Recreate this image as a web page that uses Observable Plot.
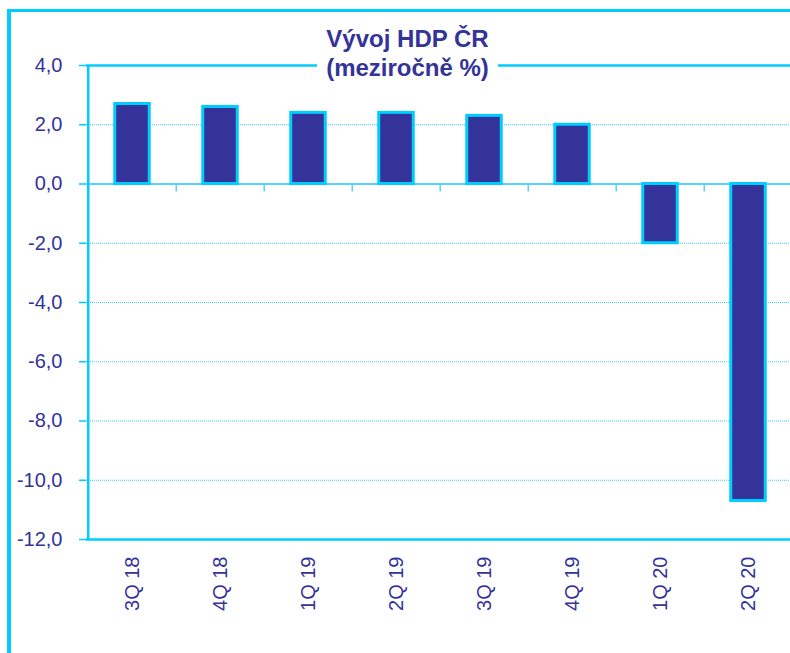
<!DOCTYPE html>
<html>
<head>
<meta charset="utf-8">
<script src="https://cdn.jsdelivr.net/npm/d3@7"></script>
<script src="https://cdn.jsdelivr.net/npm/@observablehq/plot@0.6"></script>
<style>
  html, body { margin: 0; padding: 0; background: #fff; overflow: hidden; }
  #wrap { position: relative; width: 790px; height: 653px; overflow: hidden; }
  #outer { position: absolute; left: 7px; top: 9px; width: 790px; height: 700px;
           border-left: 4px solid #00ccff; border-top: 3px solid #00ccff; }
  #chart { position: absolute; left: 0; top: 0; width: 790px; }
  #chart svg { max-width: none !important; display: block; }
  #title { position: absolute; left: 317px; top: 24px; width: 181px; background: #fff;
           text-align: center; font-family: "Liberation Sans", Arial, sans-serif; font-weight: bold;
           font-size: 24px; line-height: 29px; color: #333399; }
</style>
</head>
<body>
<div id="wrap">
  <div id="outer"></div>
  <div id="chart"></div>
  <div id="title">Vývoj HDP ČR<br>(meziročně %)</div>
</div>
<script>
const categories = ["3Q 18", "4Q 18", "1Q 19", "2Q 19", "3Q 19", "4Q 19", "1Q 20", "2Q 20"];
const values = [2.7, 2.6, 2.4, 2.4, 2.3, 2.0, -2.0, -10.7];
const yTicks = [4, 2, 0, -2, -4, -6, -8, -10, -12];
const gridValues = [2, -2, -4, -6, -8, -10];

const data = categories.map((c, i) => ({cat: c, val: values[i]}));

const W = 790, H = 653, mL = 86, mR = -4, mT = 65, mB = 114;
const step = (W - mL - mR) / categories.length;
const barW = 35;
const inset = (step - barW) / 2;

const fontFam = "'Liberation Sans', Arial, sans-serif";

const chart = Plot.plot({
  width: W,
  height: H,
  marginLeft: mL,
  marginRight: mR,
  marginTop: mT,
  marginBottom: mB,
  style: {fontFamily: fontFam, fontSize: "20px", color: "#333399", background: "transparent", overflow: "hidden", maxWidth: "none"},
  x: {domain: categories, padding: 0, label: null},
  y: {domain: [-12, 4], label: null},
  marks: [
    Plot.ruleY(gridValues, {stroke: "#33ccff", strokeWidth: 1, strokeDasharray: "1,1"}),
    Plot.ruleY([0], {stroke: "#55d4ff", strokeWidth: 2}),
    Plot.ruleX(categories.slice(1), {x: d => d, y1: () => 0, y2: () => 0, dx: -step / 2, insetBottom: -8, stroke: "#55d4ff", strokeWidth: 1.5}),
    Plot.barY(data, {x: "cat", y: "val", fill: "#333399", stroke: "#00ccff", strokeWidth: 3, insetLeft: inset, insetRight: inset}),
    Plot.ruleY([4, -12], {stroke: "#00ccff", strokeWidth: 2.5}),
    Plot.ruleX(categories.slice(0, 1), {x: d => d, dx: -step / 2, y1: () => 4, y2: () => -12, stroke: "#00ccff", strokeWidth: 2.5}),
    Plot.axisY({ticks: yTicks, tickFormat: d => d.toFixed(1).replace(".", ","), tickSize: 7, tickPadding: 17, stroke: "#00ccff", strokeWidth: 1.5, fill: "#333399", fontSize: 20}),
    Plot.axisX({tickRotate: -90, tickSize: 0, tickPadding: 17, fill: "#333399", fontSize: 20})
  ]
});
document.getElementById("chart").appendChild(chart);
</script>
</body>
</html>
